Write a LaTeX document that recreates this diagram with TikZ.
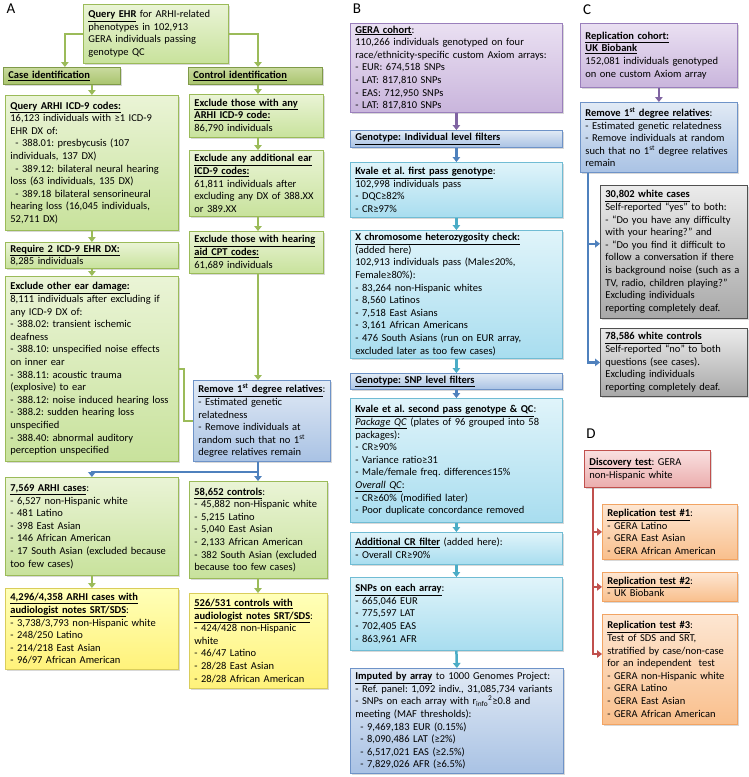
\documentclass[tikz,border=0pt]{standalone}
\usepackage{fontspec}
\setmainfont{Carlito}
\usetikzlibrary{arrows.meta,shadows}
\newcommand\boxfont{\fontsize{10.5}{12.6}\selectfont\frenchspacing}
\newcommand\bu[1]{\underline{\textbf{#1}}}
\newcommand\iu[1]{\underline{\textit{#1}}}
\newcommand\ind{\hspace*{5pt}}
\definecolor{gtop}{HTML}{EAF4D6}\definecolor{gbot}{HTML}{C8E29C}\definecolor{gbd}{HTML}{9BBB59}
\definecolor{htop}{HTML}{C9DA9E}\definecolor{hbot}{HTML}{A9C46E}\definecolor{hbd}{HTML}{7F9A48}
\definecolor{ytop}{HTML}{FFFFB8}\definecolor{ybot}{HTML}{FFF27A}\definecolor{ybd}{HTML}{D9CD5B}
\definecolor{btop}{HTML}{E1EAF5}\definecolor{bbot}{HTML}{A9C2E4}\definecolor{bbd}{HTML}{6E93C8}
\definecolor{ctop}{HTML}{E0F4FA}\definecolor{cbot}{HTML}{A8DDEF}\definecolor{cbd}{HTML}{70BCD4}
\definecolor{ptop}{HTML}{EAE0F2}\definecolor{pbot}{HTML}{C9B5DC}\definecolor{pbd}{HTML}{9A7FBC}
\definecolor{ktop}{HTML}{EBEBEB}\definecolor{kbot}{HTML}{A8A8A8}\definecolor{kbd}{HTML}{505050}
\definecolor{rtop}{HTML}{F9E0E0}\definecolor{rbot}{HTML}{EBADAD}\definecolor{rbd}{HTML}{C0504D}
\definecolor{otop}{HTML}{FDE6D2}\definecolor{obot}{HTML}{F9BF8C}\definecolor{obd}{HTML}{F2A463}
\definecolor{gln}{HTML}{9BBB59}\definecolor{bln}{HTML}{4F81BD}\definecolor{cln}{HTML}{4BACC6}
\definecolor{pln}{HTML}{8064A2}\definecolor{rln}{HTML}{C0504D}
\tikzset{
  bxbase/.style={draw, line width=0.8pt, anchor=north west, align=left, inner xsep=5pt, inner ysep=2pt,
    font=\boxfont, drop shadow={shadow xshift=1.2pt, shadow yshift=-1.5pt, opacity=0.3}},
  gbx/.style={bxbase, draw=gbd, top color=gtop, bottom color=gbot},
  hbx/.style={bxbase, draw=hbd, top color=htop, bottom color=hbot},
  ybx/.style={bxbase, draw=ybd, top color=ytop, bottom color=ybot},
  bbx/.style={bxbase, draw=bbd, top color=btop, bottom color=bbot},
  cbx/.style={bxbase, draw=cbd, top color=ctop, bottom color=cbot},
  pbx/.style={bxbase, draw=pbd, top color=ptop, bottom color=pbot},
  kbx/.style={bxbase, draw=kbd, top color=ktop, bottom color=kbot},
  rbx/.style={bxbase, draw=rbd, top color=rtop, bottom color=rbot},
  obx/.style={bxbase, draw=obd, top color=otop, bottom color=obot},
  lab/.style={font=\fontsize{15}{15}\selectfont, inner sep=0pt},
  tip/.style={-{Triangle[length=5pt,width=7.5pt]}},
  gline/.style={draw=gln, line width=2.5pt},
  bline/.style={draw=bln, line width=2.5pt},
  garrow/.style={gline, tip},
  barrow/.style={bline, tip},
  carrow/.style={draw=cln, line width=2.5pt, tip},
  parrow/.style={draw=pln, line width=2.5pt, tip},
  rline/.style={draw=rln, line width=2.5pt},
  rarrow/.style={rline, tip},
}
\begin{document}
\begin{tikzpicture}[x=1pt,y=-1pt]
\fill[white] (0,0) rectangle (749,777);
\useasboundingbox (0,0) rectangle (749,777);

% labels
\node[lab] (labA) at (11,9) {A};
\node[lab] (labB) at (357,9) {B};
\node[lab] (labC) at (587,10) {C};
\node[lab] (labD) at (591,434) {D};

% ---------------- Panel A
\node[gbx, text width=135pt, minimum height=59pt] (qehr) at (83,4)
 {\bu{Query EHR} for ARHI-related\\phenotypes in 102,913\\GERA individuals passing\\genotype QC};
\node[hbx, text width=107pt, minimum height=17pt] (casehdr) at (3,67) {\bu{Case identification}};
\node[hbx, text width=124pt, minimum height=17pt] (ctlhdr) at (188,67) {\bu{Control identification}};

\node[gbx, text width=163pt, minimum height=135pt] (qarhi) at (5,95)
 {\bu{Query ARHI ICD-9 codes:}\\
  16,123 individuals with ≥1 ICD-9\\
  EHR DX of:\\
  \ind- 388.01: presbycusis (107\\
  individuals, 137 DX)\\
  \ind- 389.12: bilateral neural hearing\\
  loss (63 individuals, 135 DX)\\
  \ind- 389.18 bilateral sensorineural\\
  hearing loss (16,045 individuals,\\
  52,711 DX)};
\node[gbx, text width=163pt, minimum height=26pt] (req2) at (5,242)
 {\bu{Require 2 ICD-9 EHR DX:}\\8,285 individuals};
\node[gbx, text width=163pt, minimum height=185pt] (exear) at (5,276)
 {\bu{Exclude other ear damage:}\\
  8,111 individuals after excluding if\\
  any ICD-9 DX of:\\
  - 388.02: transient ischemic\\
  deafness\\
  - 388.10: unspecified noise effects\\
  on inner ear\\
  - 388.11: acoustic trauma\\
  (explosive) to ear\\
  - 388.12: noise induced hearing loss\\
  - 388.2: sudden hearing loss\\
  unspecified\\
  - 388.40: abnormal auditory\\
  perception unspecified};

\node[gbx, text width=124pt, minimum height=43pt] (ctlA) at (189,94)
 {\bu{Exclude those with any}\\\bu{ARHI ICD-9 code:}\\86,790 individuals};
\node[gbx, text width=124pt, minimum height=66pt] (ctlB) at (189,150)
 {\bu{Exclude any additional ear}\\\bu{ICD-9 codes:}\\61,811 individuals after\\excluding any DX of 388.XX\\or 389.XX};
\node[gbx, text width=124pt, minimum height=42pt] (ctlC) at (189,231)
 {\bu{Exclude those with hearing}\\\bu{aid CPT codes:}\\61,689 individuals};

\node[bbx, text width=127pt, minimum height=81pt] (rmA) at (193,380)
 {\bu{Remove 1\textsuperscript{st} degree relatives}:\\- Estimated genetic\\relatedness\\- Remove individuals at\\random such that no 1\textsuperscript{st}\\degree relatives remain};

\node[gbx, text width=163pt, minimum height=98pt] (cases) at (5,477)
 {\bu{7,569 ARHI cases}:\\- 6,527 non-Hispanic white\\- 481 Latino\\- 398 East Asian\\- 146 African American\\- 17 South Asian (excluded because\\too few cases)};
\node[ybx, text width=163pt, minimum height=81pt] (casesa) at (5,588)
 {\bu{4,296/4,358 ARHI cases with}\\\bu{audiologist notes SRT/SDS}:\\- 3,738/3,793 non-Hispanic white\\- 248/250 Latino\\- 214/218 East Asian\\- 96/97 African American};
\node[gbx, text width=128pt, minimum height=97pt] (ctls) at (189,481)
 {\bu{58,652 controls}:\\- 45,882 non-Hispanic white\\- 5,215 Latino\\- 5,040 East Asian\\- 2,133 African American\\- 382 South Asian (excluded\\because too few cases)};
\node[ybx, text width=128pt, minimum height=95pt] (ctlsa) at (189,593)
 {\bu{526/531 controls with}\\\bu{audiologist notes SRT/SDS}:\\- 424/428 non-Hispanic\\white\\- 46/47 Latino\\- 28/28 East Asian\\- 28/28 African American};

\coordinate (cx) at (258,0);
\coordinate (bj) at (258,472);
\draw[garrow] (qehr.west) -| ([xshift=3pt]casehdr.north);
\draw[garrow] (qehr.east) -| (ctlhdr.north -| cx);
\draw[garrow] (casehdr.south -| qarhi.north) -- (qarhi.north);
\draw[garrow] (qarhi.south) -- (req2.north);
\draw[garrow] (req2.south) -- (exear.north);
\draw[garrow] (ctlhdr.south -| cx) -- (ctlA.north -| cx);
\draw[garrow] (ctlA.south -| cx) -- (ctlB.north -| cx);
\draw[garrow] (ctlB.south -| cx) -- (ctlC.north -| cx);
\draw[garrow] (ctlC.south -| cx) -- (rmA.north -| cx);
\draw[gline] (exear.east) -- ++(5,0) |- (rmA.west);
\draw[bline] (rmA.south -| bj) -- (bj);
\draw[barrow] (bj) -- (ctls.north -| bj);
\draw[barrow] (bj) -| (cases.north);
\draw[garrow] (cases.south) -- (casesa.north);
\draw[garrow] (ctls.south -| cx) -- (ctlsa.north -| cx);

% ---------------- Panel B
\node[pbx, text width=202pt, minimum height=89pt] (gera) at (350,23)
 {\bu{GERA cohort}:\\110,266 individuals genotyped on four\\race/ethnicity-specific custom Axiom arrays:\\- EUR: 674,518 SNPs\\- LAT: 817,810 SNPs\\- EAS: 712,950 SNPs\\- LAT: 817,810 SNPs};
\node[bbx, text width=202pt, minimum height=17pt] (ghdrA) at (350,130) {\bu{Genotype: Individual level filters}};
\node[cbx, text width=202pt, minimum height=55pt] (kvA) at (350,162)
 {\bu{Kvale et al. first pass genotype}:\\102,998 individuals pass\\- DQC≥82\%\\- CR≥97\%};
\node[cbx, text width=202pt, minimum height=128pt] (xchr) at (350,230)
 {\bu{X chromosome heterozygosity check:}\\(added here)\\102,913 individuals pass (Male≤20\%,\\Female≥80\%):\\- 83,264 non-Hispanic whites\\- 8,560 Latinos\\- 7,518 East Asians\\- 3,161 African Americans\\- 476 South Asians (run on EUR array,\\excluded later as too few cases)};
\node[bbx, text width=202pt, minimum height=16pt] (ghdrB) at (350,373) {\bu{Genotype: SNP level filters}};
\node[cbx, text width=202pt, minimum height=124pt] (kvB) at (350,398)
 {\bu{Kvale et al. second pass genotype \& QC}:\\\iu{Package QC} (plates of 96 grouped into 58\\packages):\\- CR≥90\%\\- Variance ratio≥31\\- Male/female freq. difference≤15\%\\\iu{Overall QC}:\\- CR≥60\% (modified later)\\- Poor duplicate concordance removed};
\node[cbx, text width=202pt, minimum height=32pt] (addcr) at (350,532)
 {\bu{Additional CR filter} (added here):\\- Overall CR≥90\%};
\node[cbx, text width=202pt, minimum height=73pt] (snps) at (350,577)
 {\bu{SNPs on each array}:\\- 665,046 EUR\\- 775,597 LAT\\- 702,405 EAS\\- 863,961 AFR};
\node[bbx, text width=203pt, minimum height=105pt] (imp) at (350,668)
 {\bu{Imputed by array} to 1000 Genomes Project:\\- Ref. panel: 1,092 indiv., 31,085,734 variants\\- SNPs on each array with r\textsubscript{info}\textsuperscript{2}≥0.8 and\\meeting (MAF thresholds):\\\ind- 9,469,183 EUR (0.15\%)\\\ind- 8,090,486 LAT (≥2\%)\\\ind- 6,517,021 EAS (≥2.5\%)\\\ind- 7,829,026 AFR (≥6.5\%)};

\draw[parrow] (gera.south) -- (ghdrA.north);
\draw[barrow] (ghdrA.south) -- (kvA.north);
\draw[carrow] (kvA.south) -- (xchr.north);
\draw[carrow] (xchr.south) -- (ghdrB.north);
\draw[barrow] (ghdrB.south) -- (kvB.north);
\draw[carrow] (kvB.south) -- (addcr.north);
\draw[carrow] (addcr.south) -- (snps.north);
\draw[carrow] (snps.south) -- (imp.north);

% ---------------- Panel C
\node[pbx, text width=147pt, minimum height=64pt] (rep) at (580,23)
 {\bu{Replication cohort:}\\\bu{UK Biobank}\\152,081 individuals genotyped\\on one custom Axiom array};
\node[bbx, text width=147pt, minimum height=70pt] (rmC) at (580,102)
 {\bu{Remove 1\textsuperscript{st} degree relatives}:\\- Estimated genetic relatedness\\- Remove individuals at random\\such that no 1\textsuperscript{st} degree relatives\\remain};
\node[kbx, text width=137pt, minimum height=133pt] (wcases) at (600,185)
 {\bu{30,802 white cases}\\Self-reported “yes” to both:\\- “Do you have any difficulty\\with your hearing?” and\\- “Do you find it difficult to\\follow a conversation if there\\is background noise (such as a\\TV, radio, children playing?”\\Excluding individuals\\reporting completely deaf.};
\node[kbx, text width=137pt, minimum height=68pt] (wctrls) at (600,328)
 {\bu{78,586 white controls}\\Self-reported “no” to both\\questions (see cases).\\Excluding individuals\\reporting completely deaf.};

\draw[parrow] (rep.south) -- (rmC.north);
\coordinate (ctopc) at ([xshift=8pt]rmC.south west);
\coordinate (cmid) at ([yshift=-71pt]ctopc);
\draw[barrow] (ctopc) |- (wctrls.west);
\draw[barrow] (cmid) -- (cmid -| wcases.west);

% ---------------- Panel D
\node[rbx, text width=116pt, minimum height=37pt] (disc) at (584,450)
 {\bu{Discovery test}: GERA\\non-Hispanic white};
\node[obx, text width=125pt, minimum height=55pt] (repA) at (602,504)
 {\bu{Replication test \#1}:\\- GERA Latino\\- GERA East Asian\\- GERA African American};
\node[obx, text width=125pt, minimum height=29pt] (repB) at (602,572)
 {\bu{Replication test \#2}:\\- UK Biobank};
\node[obx, text width=125pt, minimum height=110pt] (repC) at (602,614)
 {\bu{Replication test \#3}:\\Test of SDS and SRT,\\stratified by case/non-case\\for an independent\ \ test\\- GERA non-Hispanic white\\- GERA Latino\\- GERA East Asian\\- GERA African American};

\coordinate (dtop) at ([xshift=9pt]disc.south west);
\coordinate (dbot) at ([yshift=-40pt]repC.north west -| dtop);
\draw[rarrow] (dtop) -- (dbot) -- (dbot -| repC.west);
\draw[rarrow] (dtop |- repA.west) -- (repA.west);
\draw[rarrow] (dtop |- repB.west) -- (repB.west);
\end{tikzpicture}
\end{document}
